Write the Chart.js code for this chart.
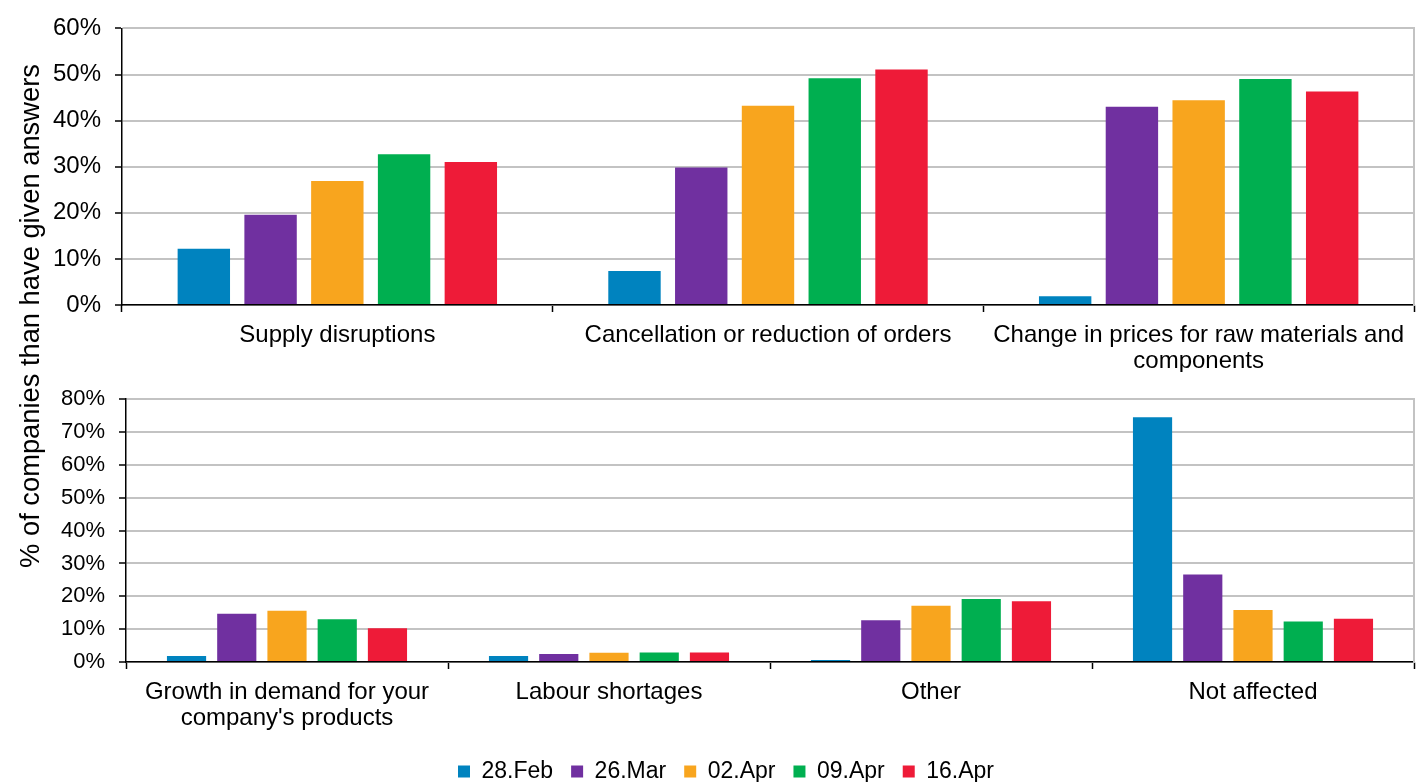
<!DOCTYPE html>
<html>
<head>
<meta charset="utf-8">
<script src="https://cdn.jsdelivr.net/npm/chart.js@4.4.1/dist/chart.umd.min.js"></script>
<style>
  html, body { margin: 0; padding: 0; background: #fff; overflow: hidden; }
  body { width: 1419px; height: 782px; position: relative; }
  .panel { position: absolute; left: 0; }
  #yTitle {
    position: absolute; width: 620px; height: 30px; line-height: 30px;
    left: -280px; top: 301px; text-align: center;
    transform: rotate(-90deg);
    font-family: "Liberation Sans", Arial, sans-serif; font-size: 27.3px; color: #000;
    white-space: nowrap;
  }
</style>
</head>
<body>
<div class="panel" style="top:0px;"><canvas id="topChart" width="1419" height="372"></canvas></div>
<div class="panel" style="top:372px;"><canvas id="bottomChart" width="1419" height="421"></canvas></div>
<div id="yTitle">% of companies than have given answers</div>
<script>
// Survey dates (one series per date)
const seriesLabels = ['28.Feb', '26.Mar', '02.Apr', '09.Apr', '16.Apr'];
const seriesColors = ['#0083BF', '#7030A0', '#F8A51E', '#00AF50', '#EE1B38'];

// Upper panel: categories and shares (%)
const topCategories = ['Supply disruptions', 'Cancellation or reduction of orders', ['Change in prices for raw materials and', 'components']];
const feb28Top = [12.2, 7.4, 1.9];
const mar26Top = [19.6, 29.8, 43.0];
const apr02Top = [26.9, 43.2, 44.4];
const apr09Top = [32.7, 49.2, 49.0];
const apr16Top = [31.0, 51.1, 46.3];

// Lower panel: categories and shares (%)
const bottomCategories = [['Growth in demand for your', "company's products"], 'Labour shortages', 'Other', 'Not affected'];
const feb28Bottom = [1.8, 1.8, 0.6, 74.5];
const mar26Bottom = [14.7, 2.4, 12.7, 26.6];
const apr02Bottom = [15.6, 2.8, 17.1, 15.8];
const apr09Bottom = [13.0, 2.9, 19.2, 12.3];
const apr16Bottom = [10.3, 2.9, 18.5, 13.2];

// Tick labels
const topTicks = [0, 10, 20, 30, 40, 50, 60];
const bottomTicks = [0, 10, 20, 30, 40, 50, 60, 70, 80];

Chart.defaults.font.family = '"Liberation Sans", Arial, sans-serif';
Chart.defaults.color = '#000';

const GRID = '#c3c3c3';

function makeDatasets(rows, catPct, barPct) {
  return rows.map((vals, i) => ({
    label: seriesLabels[i],
    data: vals,
    backgroundColor: seriesColors[i],
    borderWidth: 0,
    categoryPercentage: catPct,
    barPercentage: barPct
  }));
}

function panelOptions(cfg) {
  return {
    responsive: false,
    animation: false,
    devicePixelRatio: 1,
    layout: { padding: { top: cfg.padTop, right: 5, left: cfg.padLeft, bottom: 0 } },
    plugins: {
      legend: cfg.legend,
      tooltip: { enabled: false }
    },
    scales: {
      x: {
        grid: { offset: true, drawOnChartArea: false, tickLength: 7, tickColor: '#000', tickWidth: 1.5 },
        border: { color: '#000', width: 1.5 },
        ticks: { font: { size: 24, lineHeight: 1.1 }, padding: 10, maxRotation: 0, autoSkip: false },
        afterFit: cfg.xFit
      },
      y: {
        min: 0,
        max: cfg.max,
        afterBuildTicks: (scale) => { scale.ticks = cfg.ticks.map(v => ({ value: v })); },
        grid: { color: GRID, lineWidth: 2, tickColor: '#000', tickLength: 7, tickWidth: 1.5 },
        border: { color: '#000', width: 1.5 },
        ticks: { font: { size: cfg.tickSize }, padding: 14, callback: (v) => v + '%' },
        afterFit: (scale) => { scale.width = cfg.yWidth; }
      },
      y2: {
        position: 'right',
        min: 0,
        max: cfg.max,
        grid: { drawOnChartArea: false, drawTicks: false },
        border: { color: GRID, width: 2 },
        ticks: { display: false },
        afterFit: (scale) => { scale.width = 0; }
      }
    }
  };
}

// Upper panel: plot area spans y 20..305, x 122..1414
new Chart(document.getElementById('topChart'), {
  type: 'bar',
  data: {
    labels: topCategories,
    datasets: makeDatasets([feb28Top, mar26Top, apr02Top, apr09Top, apr16Top], 0.775, 0.785)
  },
  options: panelOptions({
    padTop: 20, padLeft: 0, yWidth: 122, max: 60, ticks: topTicks, tickSize: 24,
    legend: { display: false },
    xFit: (scale) => { scale.height = 372 - 305; }
  })
});

// Lower panel: plot area spans y 9..290 (canvas coords), x 126..1414
new Chart(document.getElementById('bottomChart'), {
  type: 'bar',
  data: {
    labels: bottomCategories,
    datasets: makeDatasets([feb28Bottom, mar26Bottom, apr02Bottom, apr09Bottom, apr16Bottom], 0.78, 0.78)
  },
  options: panelOptions({
    padTop: 9, padLeft: 38, yWidth: 88, max: 80, ticks: bottomTicks, tickSize: 22,
    legend: {
      display: true,
      position: 'bottom',
      labels: { boxWidth: 12, boxHeight: 12, padding: 18, font: { size: 23 } }
    },
    xFit: (scale) => {
      const lg = scale.chart.legend;
      const lh = lg && lg.height ? lg.height : 0;
      scale.height = scale.chart.height - 290 - lh;
    }
  })
});
</script>
</body>
</html>
